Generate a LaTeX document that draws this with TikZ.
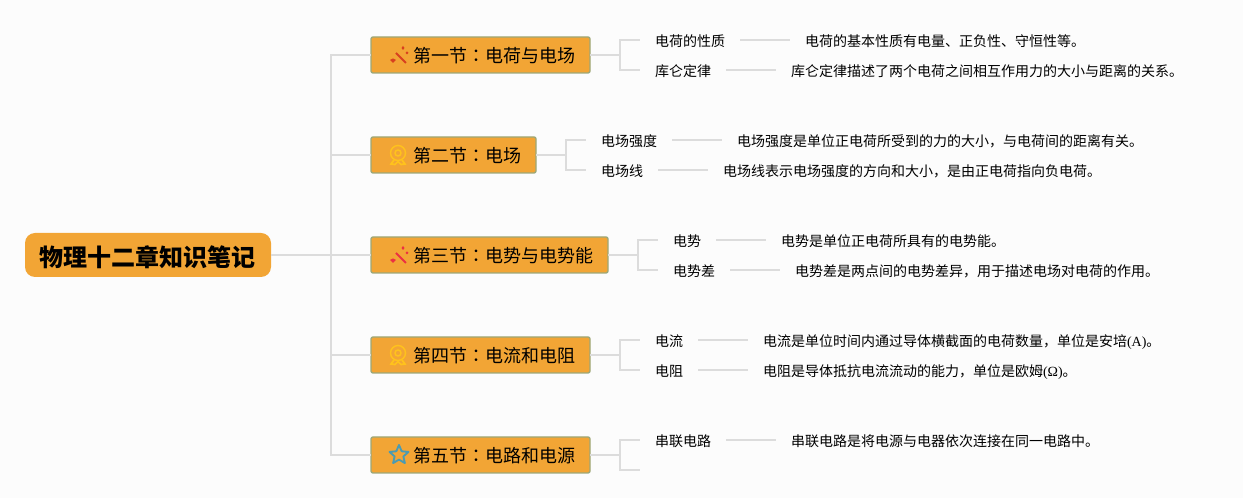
\documentclass[tikz,border=0pt]{standalone}
\usepackage{fontspec}
\usepackage{xcolor}
\usetikzlibrary{positioning}
\setmainfont{Noto Sans CJK SC}
\newfontfamily\latinfont{Liberation Serif}
\newfontfamily\colonfont{Noto Sans CJK TC}
\definecolor{pagegray}{HTML}{FCFCFC}
\definecolor{boxorange}{HTML}{F2A535}
\definecolor{boxedge}{HTML}{9DA878}
\definecolor{linegray}{HTML}{DCDCDC}
\definecolor{wandred}{HTML}{D8401F}
\definecolor{wandpink}{HTML}{EC3042}
\definecolor{medalyellow}{HTML}{FFC21C}
\definecolor{starblue}{HTML}{4A9BB2}
\newcommand{\seccolon}{{\colonfont ：}}
\newcommand{\unittext}[1]{{\latinfont #1}}
\tikzset{
	pics/wand/.style={code={
		\draw [#1, line width=1.5pt] (-3,-2) -- (7,8);
		\fill [#1] (-9,5) -- (-6,3.5) -- (-3,5) -- (-6,8) -- cycle;
		\fill [#1] (2.5,-7) -- (4,-9) -- (5.5,-7) -- (4,-5) -- cycle;
		\fill [#1] (6.5,-2) -- (8,-3.5) -- (9.5,-2) -- (8,-0.5) -- cycle;
	}},
	pics/medal/.style={code={
		\draw [medalyellow, line width=1.1pt] (-1,-2) circle (7.5);
		\draw [medalyellow, line width=1.1pt] (-1,-2) circle (3);
		\draw [medalyellow, line width=1.3pt] (-5,5) -- (-8,9) -- (-4,9.5) -- (-1,6.5) -- (2,9.5) -- (6,9) -- (3,5);
	}},
	pics/staricon/.style={code={
		\draw [starblue, line width=1.4pt, line join=round] (-90:10) -- (-54:4.6) -- (-18:10) -- (18:4.6) -- (54:10) -- (90:4.6) -- (126:10) -- (162:4.6) -- (198:10) -- (234:4.6) -- cycle;
	}},
}
\begin{document}
\begin{tikzpicture}[x=0.75pt, y=-0.75pt, line width=1.5pt, outer sep=0pt,
	root node/.style={rectangle, fill=boxorange, rounded corners=7.5pt, font=\fontsize{18pt}{22pt}\selectfont\bfseries, inner xsep=11.25pt, inner ysep=0pt, text height=18pt, text depth=1.4pt, minimum height=33pt, anchor=west},
	section node/.style={rectangle, fill=boxorange, draw=boxedge, line width=1pt, rounded corners=1.5pt, font=\fontsize{13.5pt}{16pt}\selectfont, inner xsep=11.25pt, inner ysep=0pt, text height=12.5pt, text depth=1.5pt, minimum height=27pt, anchor=west, execute at begin node={\hspace*{20.25pt}}},
	child node/.style={rectangle, font=\fontsize{10.5pt}{12pt}\selectfont, inner xsep=11.25pt, inner ysep=0pt, text height=10.5pt, text depth=1pt, anchor=west},
	text node/.style={child node, right=37.5pt of #1},
	branch/.style={draw=linegray, line width=1.5pt},
]
\fill [pagegray] (0,0) rectangle (1243,498);
\useasboundingbox (0,0) rectangle (1243,498);
\node [root node] at (25,255) (root) {物理十二章知识笔记};
\node [section node] at (371,55) (sec1) {第一节\seccolon{}电荷与电场};
\node [section node] at (371,155) (sec2) {第二节\seccolon{}电场};
\node [section node] at (371,255) (sec3) {第三节\seccolon{}电势与电势能};
\node [section node] at (371,355) (sec4) {第四节\seccolon{}电流和电阻};
\node [section node] at (371,455) (sec5) {第五节\seccolon{}电路和电源};
%
\node [child node] at (640,40) (nature) {电荷的性质};
\node [text node=nature] (natureText) {电荷的基本性质有电量、正负性、守恒性等。};
\node [child node] at (640,70) (coulomb) {库仑定律};
\node [text node=coulomb] (coulombText) {库仑定律描述了两个电荷之间相互作用力的大小与距离的关系。};
\node [child node] at (586,140) (strength) {电场强度};
\node [text node=strength] (strengthText) {电场强度是单位正电荷所受到的力的大小，与电荷间的距离有关。};
\node [child node] at (586,170) (fieldLine) {电场线};
\node [text node=fieldLine] (fieldLineText) {电场线表示电场强度的方向和大小，是由正电荷指向负电荷。};
\node [child node] at (658,240) (potential) {电势};
\node [text node=potential] (potentialText) {电势是单位正电荷所具有的电势能。};
\node [child node] at (658,270) (voltage) {电势差};
\node [text node=voltage] (voltageText) {电势差是两点间的电势差异，用于描述电场对电荷的作用。};
\node [child node] at (640,340) (current) {电流};
\node [text node=current] (currentText) {电流是单位时间内通过导体横截面的电荷数量，单位是安培\unittext{(A)}。};
\node [child node] at (640,370) (resist) {电阻};
\node [text node=resist] (resistText) {电阻是导体抵抗电流流动的能力，单位是欧姆\unittext{(Ω)}。};
\node [child node] at (640,440) (series) {串联电路};
\node [text node=series] (seriesText) {串联电路是将电源与电器依次连接在同一电路中。};
\coordinate (emptyEnd) at (640,470);
%
\draw [branch] (root.east) -- ++(60,0) |- (sec1.west);
\draw [branch] (root.east) -- ++(60,0) |- (sec2.west);
\draw [branch] (root.east) -- (sec3.west);
\draw [branch] (root.east) -- ++(60,0) |- (sec4.west);
\draw [branch] (root.east) -- ++(60,0) |- (sec5.west);
\draw [branch] (sec1.east) -- ++(30,0) |- (nature.west);
\draw [branch] (sec1.east) -- ++(30,0) |- (coulomb.west);
\draw [branch] (sec2.east) -- ++(30,0) |- (strength.west);
\draw [branch] (sec2.east) -- ++(30,0) |- (fieldLine.west);
\draw [branch] (sec3.east) -- ++(30,0) |- (potential.west);
\draw [branch] (sec3.east) -- ++(30,0) |- (voltage.west);
\draw [branch] (sec4.east) -- ++(30,0) |- (current.west);
\draw [branch] (sec4.east) -- ++(30,0) |- (resist.west);
\draw [branch] (sec5.east) -- ++(30,0) |- (series.west);
\draw [branch] (sec5.east) -- ++(30,0) |- (emptyEnd);
\draw [branch] (nature) -- (natureText);
\draw [branch] (coulomb) -- (coulombText);
\draw [branch] (strength) -- (strengthText);
\draw [branch] (fieldLine) -- (fieldLineText);
\draw [branch] (potential) -- (potentialText);
\draw [branch] (voltage) -- (voltageText);
\draw [branch] (current) -- (currentText);
\draw [branch] (resist) -- (resistText);
\draw [branch] (series) -- (seriesText);
%
\pic at (399,55) {wand=wandred};
\pic at (399,155) {medal};
\pic at (399,255) {wand=wandpink};
\pic at (399,355) {medal};
\pic at (399,455) {staricon};
\end{tikzpicture}
\end{document}
